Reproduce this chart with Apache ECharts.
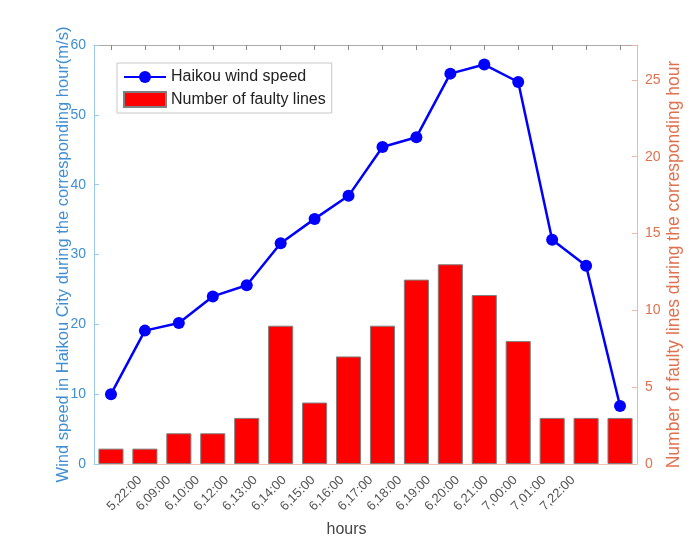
<!DOCTYPE html>
<html lang="en">
<head>
    <meta charset="utf-8"/>
    <title>Haikou wind speed and faulty lines</title>
    <script src="https://cdn.jsdelivr.net/npm/echarts@6/dist/echarts.min.js"></script>
    <style>
        html, body { margin: 0; padding: 0; background: #fff; }
        #main { width: 700px; height: 555px; }
    </style>
</head>
<body>
<div id="main"></div>
<script>
    // 横轴：小时
    var hours = ['5,22:00', '6,09:00', '6,10:00', '6,12:00', '6,13:00', '6,14:00', '6,15:00', '6,16:00',
        '6,17:00', '6,18:00', '6,19:00', '6,20:00', '6,21:00', '7,00:00', '7,01:00', '7,22:00'];
    // 海口风速 (m/s)
    var windSpeed = [10.0, 19.1, 20.2, 24.0, 25.6, 31.6, 35.1, 38.4, 45.4, 46.8, 55.9, 57.2, 54.7, 32.1, 28.4, 8.3];
    // 故障线路数
    var faultyLines = [1, 1, 2, 2, 3, 9, 4, 7, 9, 12, 13, 11, 8, 3, 3, 3];

    var leftColor = '#3f8fd2';
    var rightColor = '#e0714f';
    var font = 'Liberation Sans, Arial, sans-serif';

    var myChart = echarts.init(document.getElementById('main'));

    var option = {
        animation: false,
        textStyle: { fontFamily: font },
        grid: [
            { left: 94, right: 63, top: 45, bottom: 91 },
            // 原图的刻度文字比刻度略窄，单独放一个网格来画
            { left: 125.5, width: 462, top: 45, bottom: 91 }
        ],
        legend: {
            orient: 'vertical',
            left: 117,
            top: 63,
            itemWidth: 42,
            itemHeight: 15,
            itemGap: 6,
            padding: [6, 6, 5, 6],
            borderColor: '#c8c8c8',
            borderWidth: 1,
            backgroundColor: '#fff',
            textStyle: { fontSize: 16, color: '#222', fontFamily: font },
            data: [
                { name: 'Haikou wind speed' },
                { name: 'Number of faulty lines', icon: 'rect' }
            ]
        },
        xAxis: [{
            type: 'category',
            gridIndex: 0,
            data: hours,
            axisLine: { lineStyle: { color: '#f0c0b0' } },
            axisTick: { show: true, inside: true, alignWithLabel: true, interval: 0, length: 5, lineStyle: { color: '#888' } },
            axisLabel: { show: false },
            splitLine: { show: false }
        }, {
            type: 'category',
            gridIndex: 0,
            data: hours,
            position: 'top',
            axisLine: { onZero: false, lineStyle: { color: '#aaa' } },
            axisTick: { show: true, inside: true, alignWithLabel: true, interval: 0, length: 5, lineStyle: { color: '#888' } },
            axisLabel: { show: false },
            splitLine: { show: false }
        }, {
            type: 'category',
            gridIndex: 1,
            data: hours,
            name: 'hours',
            nameLocation: 'middle',
            nameGap: 58,
            nameMoveOverlap: false,
            nameTextStyle: { fontSize: 16, color: '#444', padding: [0, 20, 0, 0] },
            axisLine: { show: false },
            axisTick: { show: false },
            axisLabel: { rotate: 45, fontSize: 13, color: '#555', margin: 14, interval: 0 },
            splitLine: { show: false }
        }],
        yAxis: [{
            type: 'value',
            gridIndex: 0,
            min: 0,
            max: 60,
            interval: 10,
            name: 'Wind speed in Haikou City during the corresponding hour(m/s)',
            nameLocation: 'middle',
            nameGap: 22,
            nameMoveOverlap: false,
            nameTextStyle: { fontSize: 16.5, color: leftColor },
            axisLine: { show: true, lineStyle: { color: '#9ccbe9' } },
            axisTick: { show: true, inside: true, length: 5, lineStyle: { color: '#9ccbe9' } },
            axisLabel: { fontSize: 14, color: leftColor, margin: 8 },
            splitLine: { show: false }
        }, {
            type: 'value',
            gridIndex: 0,
            min: 0,
            max: 27.27,
            interval: 5,
            name: 'Number of faulty lines during the corresponding hour',
            nameLocation: 'middle',
            nameGap: 28,
            nameRotate: 90,
            nameMoveOverlap: false,
            nameTextStyle: { fontSize: 17.5, color: rightColor, padding: [0, 20, 0, 0] },
            axisLine: { show: true, lineStyle: { color: '#f0b8a4' } },
            axisTick: { show: true, inside: true, length: 5, lineStyle: { color: '#f0b8a4' } },
            axisLabel: {
                fontSize: 14, color: rightColor, margin: 8,
                formatter: function (v) { return v % 5 === 0 ? v : ''; }
            },
            splitLine: { show: false }
        }, {
            type: 'value',
            gridIndex: 1,
            show: false
        }],
        series: [{
            name: 'Number of faulty lines',
            type: 'bar',
            xAxisIndex: 0,
            yAxisIndex: 1,
            data: faultyLines,
            barCategoryGap: '26%',
            itemStyle: { color: '#ff0000', borderColor: '#808080', borderWidth: 1 },
            z: 1
        }, {
            name: 'Haikou wind speed',
            type: 'line',
            xAxisIndex: 0,
            yAxisIndex: 0,
            data: windSpeed,
            symbol: 'circle',
            symbolSize: 12,
            lineStyle: { color: '#0000ff', width: 2.5 },
            itemStyle: { color: '#0000ff' },
            z: 3
        }]
    };

    myChart.setOption(option);
</script>
</body>
</html>
